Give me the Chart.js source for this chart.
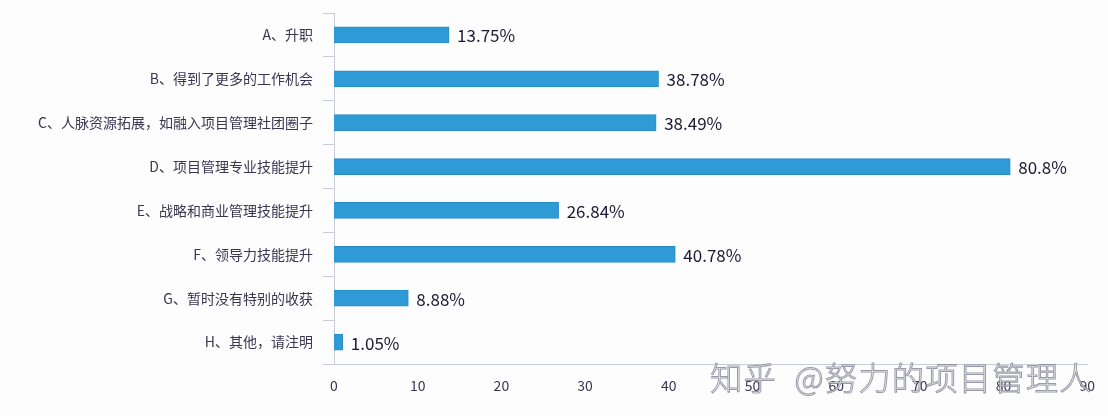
<!DOCTYPE html>
<html>
<head>
<meta charset="utf-8">
<script src="https://cdn.jsdelivr.net/npm/chart.js@4"></script>
<style>
  html, body { margin: 0; padding: 0; background: #fdfdfe; }
  #wrap { width: 1108px; height: 416px; position: relative; }
</style>
</head>
<body>
<div id="wrap"><canvas id="myChart"></canvas></div>
<script>
var categories = [
    'A、升职',
    'B、得到了更多的工作机会',
    'C、人脉资源拓展，如融入项目管理社团圈子',
    'D、项目管理专业技能提升',
    'E、战略和商业管理技能提升',
    'F、领导力技能提升',
    'G、暂时没有特别的收获',
    'H、其他，请注明'
];
var percents = [13.75, 38.78, 38.49, 80.8, 26.84, 40.78, 8.88, 1.05];
var xTicks = [0, 10, 20, 30, 40, 50, 60, 70, 80, 90];
var watermark = '知乎  @努力的项目管理人';

var FONT = '"Noto Sans CJK SC", "Noto Sans", sans-serif';

// draws the "xx.xx%" text right of each bar
var valueLabels = {
    id: 'valueLabels',
    afterDatasetsDraw: function (chart) {
        var ctx = chart.ctx;
        var meta = chart.getDatasetMeta(0);
        ctx.save();
        ctx.font = '17px ' + FONT;
        ctx.fillStyle = '#1c1a33';
        ctx.textBaseline = 'middle';
        meta.data.forEach(function (bar, i) {
            ctx.fillText(percents[i] + '%', bar.x + 8, bar.y + 1);
        });
        ctx.restore();
    }
};

var watermarkText = {
    id: 'watermarkText',
    afterDraw: function (chart) {
        var ctx = chart.ctx;
        ctx.save();
        ctx.font = '300 32px ' + FONT;
        ctx.letterSpacing = '1.5px';
        ctx.textBaseline = 'middle';
        ctx.textAlign = 'right';
        ctx.lineWidth = 1;
        ctx.strokeStyle = 'rgba(110, 110, 130, 0.7)';
        ctx.fillStyle = 'rgba(255, 255, 255, 0.9)';
        ctx.fillText(watermark, 1093, 378);
        ctx.strokeText(watermark, 1093, 378);
        ctx.restore();
    }
};

var ctx = document.getElementById('myChart').getContext('2d');
new Chart(ctx, {
    type: 'bar',
    data: {
        labels: categories,
        datasets: [{
            data: percents,
            backgroundColor: '#2e9bd6',
            borderColor: '#2a8cc5',
            borderWidth: 1,
            barThickness: 16
        }]
    },
    options: {
        indexAxis: 'y',
        responsive: true,
        maintainAspectRatio: false,
        animation: false,
        layout: { padding: { top: 13, right: 16, bottom: 0, left: 0 } },
        plugins: {
            legend: { display: false },
            tooltip: { enabled: false }
        },
        scales: {
            x: {
                min: 0,
                max: 90,
                afterBuildTicks: function (scale) {
                    scale.ticks = xTicks.map(function (v) { return { value: v }; });
                },
                afterFit: function (scale) { scale.height = 52; },
                grid: { display: false, drawTicks: false },
                border: { display: true, color: '#c9cdd8', width: 1 },
                ticks: {
                    color: '#3a3650',
                    font: { family: FONT, size: 14 },
                    padding: 13,
                    maxRotation: 0
                }
            },
            y: {
                afterFit: function (scale) {
                    scale.width = 334;
                    // bars sit between grid lines, so no label overhang is needed
                    scale.paddingTop = 0;
                    scale.paddingBottom = 0;
                },
                grid: {
                    drawOnChartArea: false,
                    drawTicks: true,
                    tickLength: 11,
                    color: '#c9cdd8',
                    offset: true
                },
                border: { display: true, color: '#c9cdd8', width: 1 },
                ticks: {
                    color: '#3a3650',
                    font: { family: FONT, size: 14 },
                    padding: 10
                }
            }
        }
    },
    plugins: [valueLabels, watermarkText]
});
</script>
</body>
</html>
